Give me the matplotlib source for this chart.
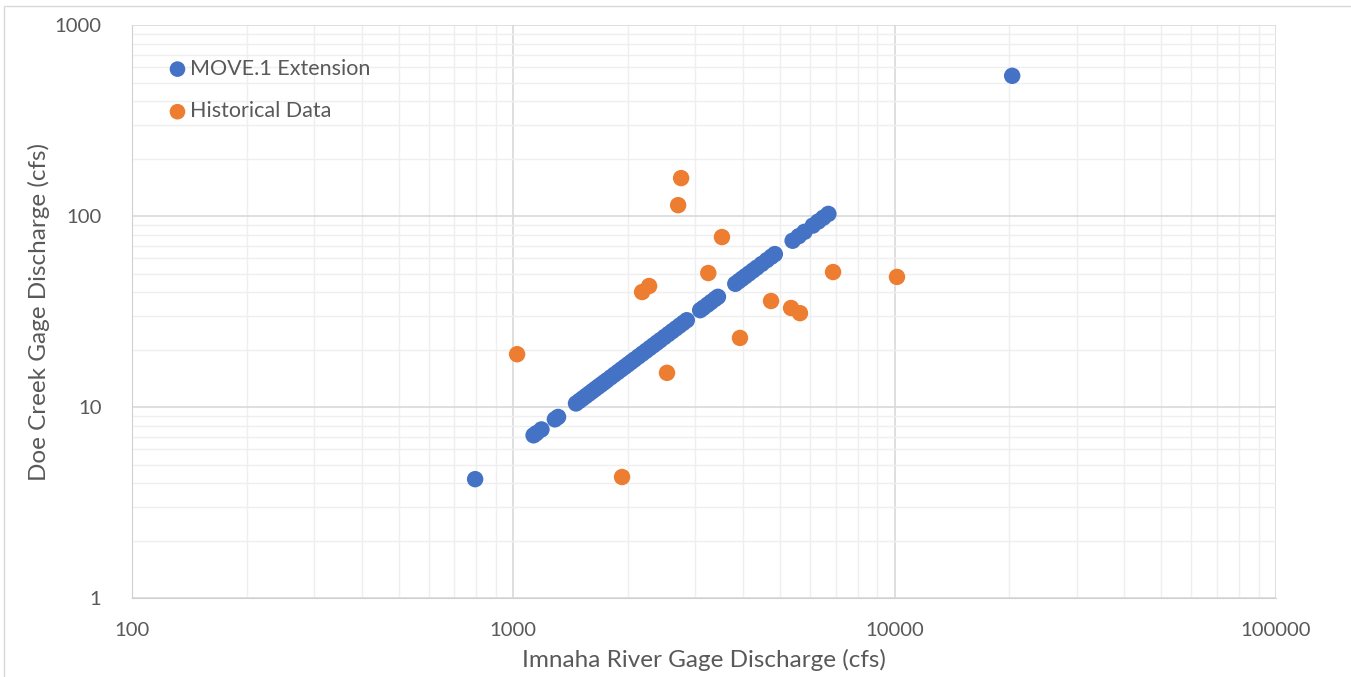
import matplotlib.pyplot as plt
from matplotlib.patches import Rectangle
from matplotlib.ticker import LogLocator, FixedLocator, NullFormatter

# MOVE.1 record extension (Imnaha River vs Doe Creek, cfs)
move_x = [794, 1130, 1150, 1185, 1285, 1310,
          1460, 1490, 1520, 1550, 1580, 1610, 1640, 1670, 1700, 1730, 1760,
          1800, 1840, 1880, 1920, 1960, 2000, 2040, 2080, 2130, 2180, 2230,
          2280, 2330, 2380, 2430, 2490, 2550, 2610, 2670, 2730, 2790, 2850,
          3090, 3150, 3230, 3300, 3380, 3440,
          3820, 3900, 3980, 4060, 4150, 4250, 4350, 4480, 4620, 4750, 4850,
          5400, 5600, 5800, 6100, 6300, 6500, 6700, 20330]
move_y = [4.19, 7.11, 7.30, 7.63, 8.62, 8.87,
          10.44, 10.76, 11.09, 11.42, 11.75, 12.09, 12.43, 12.77, 13.11, 13.46, 13.81,
          14.29, 14.77, 15.25, 15.74, 16.23, 16.73, 17.24, 17.75, 18.39, 19.04, 19.70,
          20.37, 21.04, 21.73, 22.41, 23.25, 24.09, 24.95, 25.81, 26.69, 27.57, 28.47,
          32.14, 33.08, 34.34, 35.47, 36.77, 37.75,
          44.18, 45.57, 46.98, 48.40, 50.02, 51.84, 53.68, 56.10, 58.75, 61.25, 63.19,
          74.24, 78.40, 82.65, 89.14, 93.56, 98.05, 102.6, 542.3]

# Historical paired observations
hist_x = [1023, 2176, 2270, 2754, 2705, 3524, 3245, 2529, 1928, 3929,
          4740, 5350, 5645, 6893, 10140]
hist_y = [18.9, 40, 43, 158, 114, 77.6, 50.3, 15.1, 4.3, 23,
          35.9, 33, 31, 50.9, 48]

x_ticks = [100, 1000, 10000, 100000]
y_ticks = [1, 10, 100, 1000]

plt.rcParams['font.family'] = ['Lato', 'DejaVu Sans']
text_color = '#595959'

fig = plt.figure(figsize=(13.51, 6.77), dpi=100)
# chart-area outline (only left and top edges fall inside the image)
fig.patches.append(Rectangle((0.003, -0.05), 1.2, 1.041, transform=fig.transFigure,
                             fill=False, edgecolor='#d9d9d9', linewidth=1))
ax = fig.add_axes([0.0977, 0.1167, 0.8468, 0.8463])

ax.scatter(move_x, move_y, s=140, color='#4472C4', edgecolors='none',
           label='MOVE.1 Extension', zorder=3)
ax.scatter(hist_x, hist_y, s=140, color='#ED7D31', edgecolors='none',
           label='Historical Data', zorder=3)

ax.set_xscale('log')
ax.set_yscale('log')
ax.set_xlim(100, 100000)
ax.set_ylim(1, 1000)
ax.xaxis.set_major_locator(FixedLocator(x_ticks))
ax.yaxis.set_major_locator(FixedLocator(y_ticks))
ax.set_xticklabels([str(v) for v in x_ticks])
ax.set_yticklabels([str(v) for v in y_ticks])
ax.xaxis.set_minor_locator(LogLocator(base=10, subs=range(2, 10)))
ax.yaxis.set_minor_locator(LogLocator(base=10, subs=range(2, 10)))
ax.xaxis.set_minor_formatter(NullFormatter())
ax.yaxis.set_minor_formatter(NullFormatter())

ax.grid(which='major', color='#d9d9d9', linewidth=1.2, zorder=0)
ax.grid(which='minor', color='#efefef', linewidth=1.0, zorder=0)
ax.set_axisbelow(True)

for side in ['top', 'right']:
    ax.spines[side].set_visible(False)
ax.spines['left'].set_color('#d0d0d0')
ax.spines['bottom'].set_color('#d0d0d0')
ax.tick_params(which='both', length=0, labelsize=14.6, colors=text_color)
ax.tick_params(axis='x', pad=17)
ax.tick_params(axis='y', pad=22)

ax.set_xlabel('Imnaha River Gage Discharge (cfs)', fontsize=17.5, color=text_color, labelpad=7.5)
ax.set_ylabel('Doe Creek Gage Discharge (cfs)', fontsize=17.5, color=text_color, labelpad=3)

leg = ax.legend(loc='upper left', bbox_to_anchor=(0.004, 0.975), frameon=False,
                fontsize=15.5, labelspacing=1.05, handletextpad=-0.4,
                markerscale=0.95, labelcolor=text_color)

fig.savefig('out.png', dpi=100)
